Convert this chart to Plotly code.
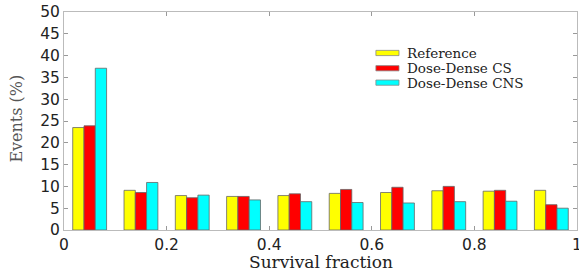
import plotly.graph_objects as go

x_centers = [0.05, 0.15, 0.25, 0.35, 0.45, 0.55, 0.65, 0.75, 0.85, 0.95]
reference = [23.5, 9.1, 7.9, 7.7, 7.9, 8.4, 8.6, 9.0, 8.9, 9.1]
dd_cs = [23.9, 8.6, 7.4, 7.7, 8.3, 9.3, 9.8, 10.0, 9.1, 5.8]
dd_cns = [37.1, 10.9, 8.0, 6.9, 6.5, 6.3, 6.2, 6.5, 6.6, 5.0]
series_names = ["Reference", "Dose-Dense CS", "Dose-Dense CNS"]
colors = ["#ffff00", "#ff0000", "#00ffff"]
x_tick_vals = [0, 0.2, 0.4, 0.6, 0.8, 1.0]
x_tick_text = ["0", "0.2", "0.4", "0.6", "0.8", "1"]
y_tick_vals = list(range(0, 51, 5))

fig = go.Figure()
for name, vals, col in zip(series_names, [reference, dd_cs, dd_cns], colors):
    fig.add_trace(go.Bar(x=x_centers, y=vals, name=name, marker_color=col,
                         marker_line=dict(color="#666666", width=0.8),
                         showlegend=False))

tick_font = dict(family="DejaVu Sans", size=15.5, color="#222222")
axis_common = dict(showline=True, linecolor="#bbbbbb", linewidth=1, mirror="ticks",
                   ticks="inside", ticklen=4, tickcolor="#999999", showgrid=False,
                   zeroline=False, automargin=False, tickfont=tick_font)

fig.update_layout(
    width=579, height=274,
    margin=dict(l=64, r=2, t=12, b=44),
    paper_bgcolor="white", plot_bgcolor="white",
    barmode="group", bargap=0.34, bargroupgap=0,
    xaxis=dict(range=[0, 1], tickvals=x_tick_vals[:-1], ticktext=x_tick_text[:-1],
               **axis_common),
    yaxis=dict(range=[0, 50], tickvals=y_tick_vals, **axis_common),
    showlegend=False,
)

# the last x tick label (cut at the edge as in the reference)
fig.add_annotation(x=x_tick_vals[-1], y=0, xref="x", yref="paper", text=x_tick_text[-1],
                   showarrow=False, xanchor="center", yanchor="top", yshift=-4,
                   font=tick_font)

# axis titles
fig.add_annotation(x=0.5, y=-0.145, xref="paper", yref="paper", text="Survival fraction",
                   showarrow=False, xanchor="center", yanchor="middle",
                   font=dict(family="DejaVu Serif", size=17, color="#222222"))
fig.add_annotation(x=-0.092, y=0.51, xref="paper", yref="paper", text="Events (%)",
                   showarrow=False, textangle=-90, xanchor="center", yanchor="middle",
                   font=dict(family="DejaVu Serif", size=16, color="#555555"))

# legend drawn as patches + labels
legend_y = [0.812, 0.742, 0.676]
for name, col, ly in zip(series_names, colors, legend_y):
    fig.add_shape(type="rect", xref="paper", yref="paper", x0=0.608, x1=0.653,
                  y0=ly - 0.012, y1=ly + 0.012, fillcolor=col,
                  line=dict(color="#888888", width=0.8))
    fig.add_annotation(x=0.665, y=ly, xref="paper", yref="paper", text=name,
                       showarrow=False, xanchor="left", yanchor="middle",
                       font=dict(family="DejaVu Serif", size=13.5, color="#222222"))

# remove the default 8px page margin so the figure fills the window exactly
fig.write_html("out.html", config={"displayModeBar": False},
               post_script="document.body.style.margin='0';document.body.style.overflow='hidden';")
